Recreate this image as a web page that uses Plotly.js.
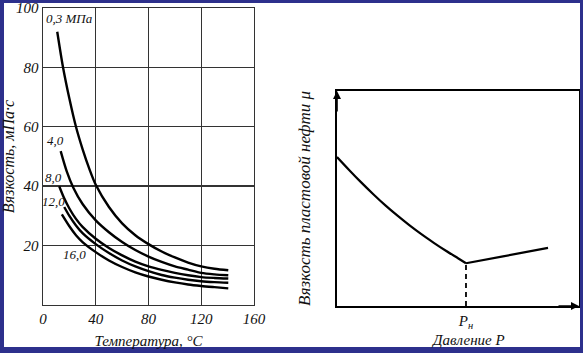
<!DOCTYPE html>
<html><head><meta charset="utf-8">
<script src="https://cdn.plot.ly/plotly-3.0.1.min.js"></script>
<style>
html,body{margin:0;padding:0;background:#fff;width:583px;height:353px;overflow:hidden;}
#chart{position:absolute;left:0;top:0;width:583px;height:353px;}
</style></head>
<body><div id="chart"></div>
<script>
// Left chart: viscosity vs temperature at various pressures
const curveLabels = ['0,3 МПа','4,0','8,0','12,0','16,0'];
const temp03 = [10.8,15,20,25,30,35,40,50,60,70,80,90,100,110,120,130,140.5];
const visc03 = [92,80.5,69.5,60,52.5,46,40.5,33,27.5,23.5,20.5,18,16,14.3,13,12.2,11.7];
const temp40 = [13.4,18,23,30,40,50,60,70,80,90,100,110,120,130,140.5];
const visc40 = [51.8,45,39.5,34,28.5,24.5,21.2,18.5,16.3,14.5,13,11.9,10.8,10.3,10.0];
const temp80 = [12.3,16,20,25,30,40,50,60,70,80,90,100,110,120,130,140.5];
const visc80 = [40,36,32.5,29,26.3,22.3,19.2,16.7,14.6,13,11.8,10.8,10,9.4,9.1,8.9];
const temp120 = [16.1,20,25,30,40,50,60,70,80,90,100,110,120,130,140.5];
const visc120 = [33,30,26.8,24.2,20.5,17.5,15,13,11.4,10.1,9.2,8.5,8.0,7.7,7.5];
const temp160 = [14.3,20,25,30,40,50,60,70,80,90,100,110,120,130,140.5];
const visc160 = [30.5,26.5,23.5,21.2,17.8,15,12.8,11,9.6,8.5,7.6,6.9,6.4,6.0,5.6];
const xTicks = [0,40,80,120,160];
const yTicks = [20,40,60,80,100];
// label anchor positions (data coords)
const labelT = [20,9.5,8,8,24];
const labelV = [96.5,55.5,43,34.8,17];

// Right chart: schematic viscosity vs pressure
const pressDecl = [0,0.5,1,1.5,2,2.5,3,3.5,4,4.5,5,5.33];
const muDecl = [6.93,6.33,5.75,5.2,4.68,4.2,3.75,3.33,2.94,2.57,2.22,1.99];
const pressRise = [5.33,8.72];
const muRise = [1.99,2.70];
const pSat = 5.33;

const serif = 'Liberation Serif, Times New Roman, serif';
const fnt = (s)=>({family:serif, size:s, color:'#111', style:'italic'});

const curveLine = {color:'#000', width:2.4, shape:'spline', smoothing:0.8};
const traces = [
  {x:temp03,y:visc03,mode:'lines',line:curveLine,xaxis:'x',yaxis:'y'},
  {x:temp40,y:visc40,mode:'lines',line:curveLine,xaxis:'x',yaxis:'y'},
  {x:temp80,y:visc80,mode:'lines',line:curveLine,xaxis:'x',yaxis:'y'},
  {x:temp120,y:visc120,mode:'lines',line:curveLine,xaxis:'x',yaxis:'y'},
  {x:temp160,y:visc160,mode:'lines',line:curveLine,xaxis:'x',yaxis:'y'},
  {x:pressDecl,y:muDecl,mode:'lines',line:{color:'#000',width:2.2,shape:'spline',smoothing:0.8},xaxis:'x2',yaxis:'y2'},
  {x:pressRise,y:muRise,mode:'lines',line:{color:'#000',width:2.2},xaxis:'x2',yaxis:'y2'},
  {x:[pSat,pSat],y:[0,muDecl[muDecl.length-1]],mode:'lines',line:{color:'#000',width:1.8,dash:'5px,4px'},xaxis:'x2',yaxis:'y2'}
];

const annotations = curveLabels.map((t,i)=>({
  x:labelT[i], y:labelV[i], xref:'x', yref:'y', text:t, showarrow:false,
  font:fnt(13), xanchor:'center', yanchor:'middle'
}));
annotations.push(
  {x:0,y:10,xref:'x2',yref:'y2',ax:0,ay:22,text:'',showarrow:true,
   arrowhead:2,arrowsize:1,arrowwidth:1.6,arrowcolor:'#000'},
  {x:10,y:0,xref:'x2',yref:'y2',ax:-22,ay:0,text:'',showarrow:true,
   arrowhead:2,arrowsize:1,arrowwidth:1.6,arrowcolor:'#000'},
  {x:pSat+0.1,y:0.037,xref:'x2',yref:'paper',text:'Давление P',showarrow:false,
   font:fnt(15),xanchor:'center',yanchor:'middle'}
);

const blue = '#2d308c';
const W = 583, H = 353;
const shapes = [
  {type:'rect',xref:'paper',yref:'paper',x0:0,x1:4/W,y0:0,y1:1,fillcolor:blue,line:{width:0},layer:'above'},
  {type:'rect',xref:'paper',yref:'paper',x0:580/W,x1:1,y0:0,y1:1,fillcolor:blue,line:{width:0},layer:'above'},
  {type:'rect',xref:'paper',yref:'paper',x0:0,x1:1,y0:1-3/H,y1:1,fillcolor:blue,line:{width:0},layer:'above'},
  {type:'rect',xref:'paper',yref:'paper',x0:0,x1:1,y0:0,y1:6/H,fillcolor:blue,line:{width:0},layer:'above'}
];

const layout = {
  width:W, height:H, margin:{l:0,r:0,t:0,b:0},
  paper_bgcolor:'#fff', plot_bgcolor:'#fff', showlegend:false,
  font:{family:serif,color:'#111'},
  xaxis:{domain:[0.07376,0.43568], range:[0,160], tickvals:xTicks, ticktext:xTicks.map(String),
    showgrid:true, gridcolor:'#333', gridwidth:1.4, zeroline:false,
    showline:true, mirror:true, linecolor:'#333', linewidth:1.4, ticks:'',
    tickfont:fnt(15), automargin:false, ticklabeloverflow:'allow',
    title:{text:'Температура, °С', font:fnt(15), standoff:9}},
  yaxis:{domain:[0.13598,0.97734], range:[0,100], tickvals:yTicks, ticktext:yTicks.map(String),
    showgrid:true, gridcolor:'#333', gridwidth:1.4, zeroline:false,
    showline:true, mirror:true, linecolor:'#333', linewidth:1.4, ticks:'',
    tickfont:fnt(15), automargin:false, ticklabeloverflow:'allow',
    title:{text:'Вязкость, мПа·с', font:fnt(16), standoff:4}},
  xaxis2:{domain:[0.57804,0.99314], range:[0,10], anchor:'y2', tickvals:[pSat], ticktext:['P<sub>н</sub>'],
    showgrid:false, zeroline:false, showline:true, mirror:true, linecolor:'#000', linewidth:2,
    ticks:'', tickfont:fnt(15), automargin:false},
  yaxis2:{domain:[0.13314,0.74221], range:[0,10], anchor:'x2', showticklabels:false,
    showgrid:false, zeroline:false, showline:true, mirror:true, linecolor:'#000', linewidth:2,
    ticks:'', automargin:false,
    title:{text:'Вязкость пластовой нефти μ', font:fnt(17), standoff:20}},
  annotations:annotations,
  shapes:shapes
};
Plotly.newPlot('chart', traces, layout, {displayModeBar:false, staticPlot:true});
</script></body></html>
